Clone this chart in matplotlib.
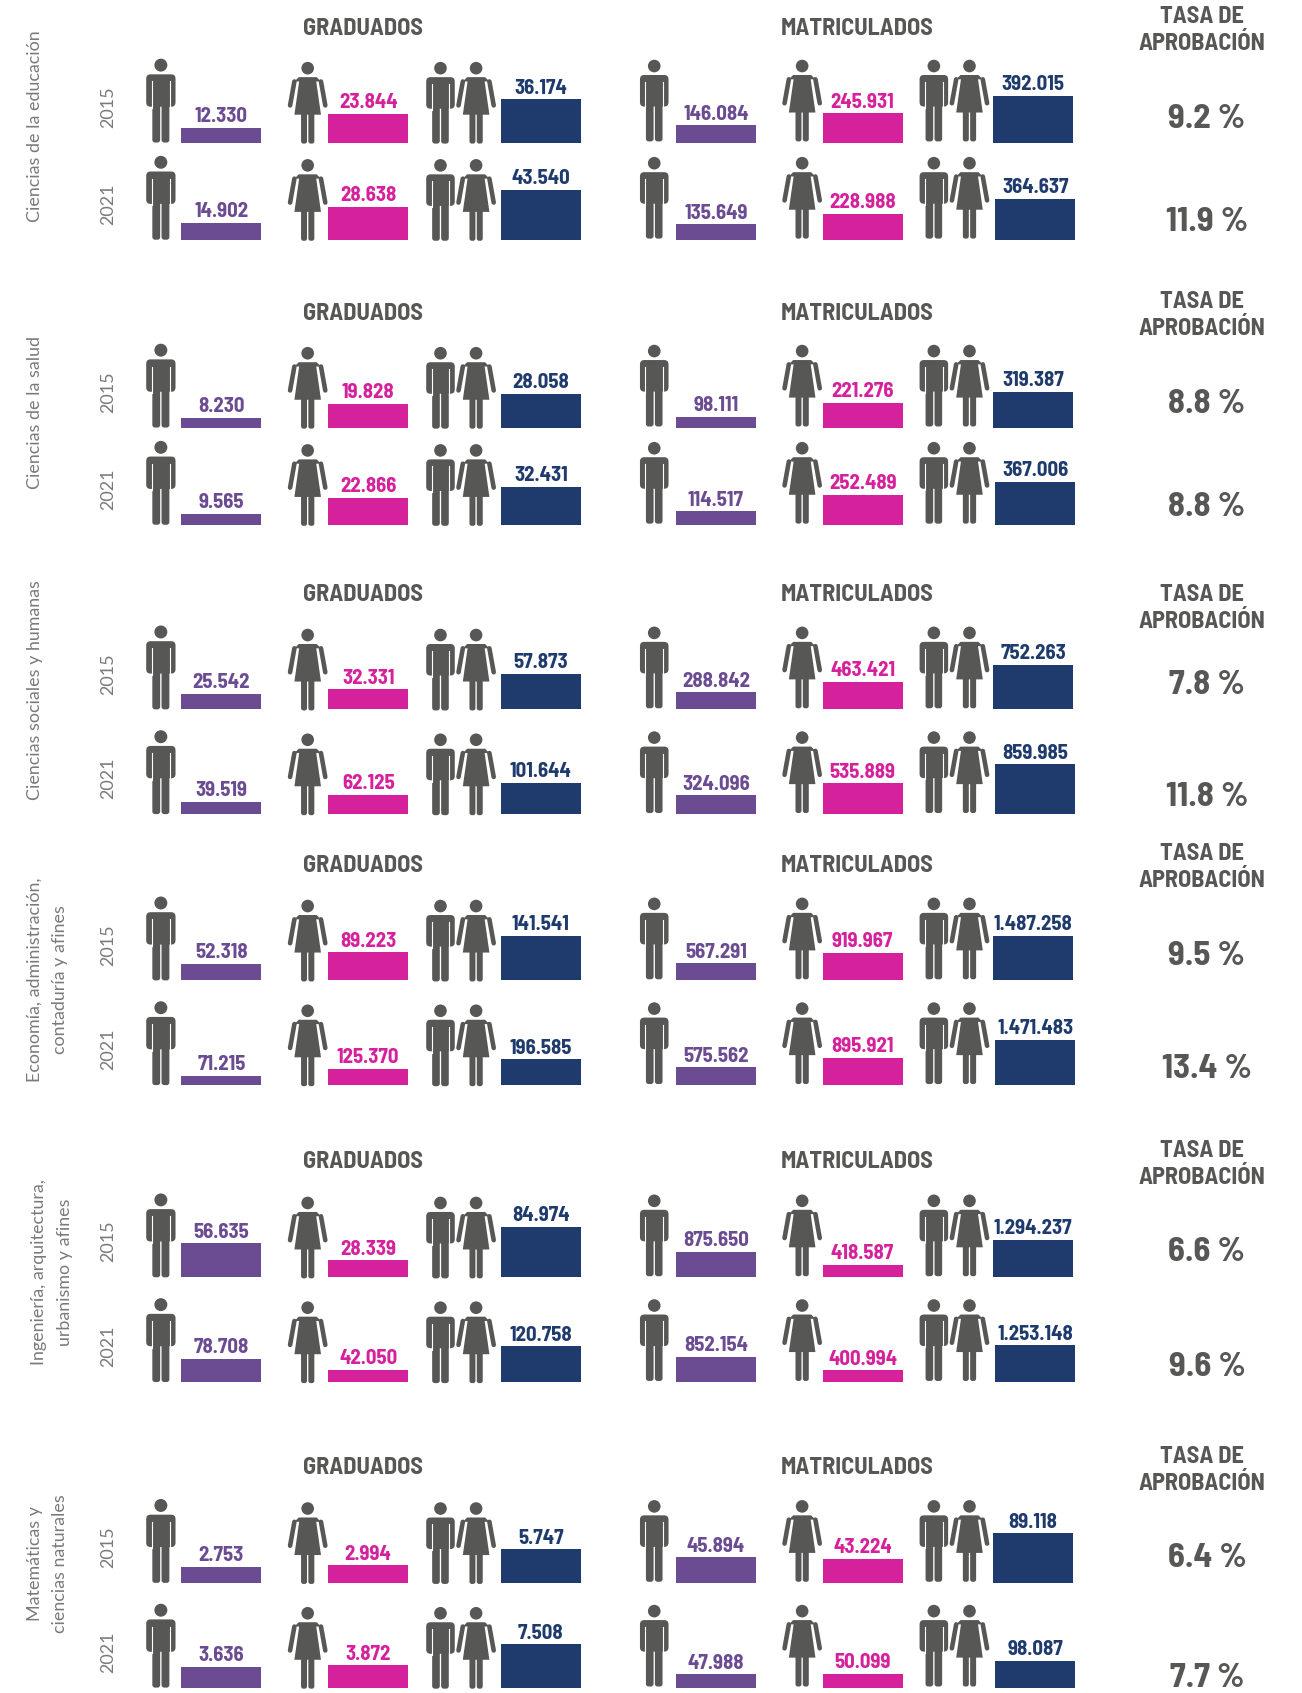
import matplotlib.pyplot as plt
from matplotlib.patches import Circle, FancyBboxPatch, Polygon

categories = [
    ['Ciencias de la educación'],
    ['Ciencias de la salud'],
    ['Ciencias sociales y humanas'],
    ['Economía, administración,', 'contaduría y afines'],
    ['Ingeniería, arquitectura,', 'urbanismo y afines'],
    ['Matemáticas y', 'ciencias naturales'],
]
years = ['2015', '2021']

# each row: [2015, 2021]
grad_men = [[12330, 14902], [8230, 9565], [25542, 39519], [52318, 71215], [56635, 78708], [2753, 3636]]
grad_women = [[23844, 28638], [19828, 22866], [32331, 62125], [89223, 125370], [28339, 42050], [2994, 3872]]
grad_total = [[36174, 43540], [28058, 32431], [57873, 101644], [141541, 196585], [84974, 120758], [5747, 7508]]
mat_men = [[146084, 135649], [98111, 114517], [288842, 324096], [567291, 575562], [875650, 852154], [45894, 47988]]
mat_women = [[245931, 228988], [221276, 252489], [463421, 535889], [919967, 895921], [418587, 400994], [43224, 50099]]
mat_total = [[392015, 364637], [319387, 367006], [752263, 859985], [1487258, 1471483], [1294237, 1253148], [89118, 98087]]
rates = [[9.2, 11.9], [8.8, 8.8], [7.8, 11.8], [9.5, 13.4], [6.6, 9.6], [6.4, 7.7]]

# layout, in px of the 1206x1568 view
baselines = [[132, 222], [396, 486], [657, 754], [908, 1005], [1183, 1280], [1466, 1563]]
grad_full = [[40, 46], [31, 35], [33, 29], [41, 24], [47, 33], [31, 40]]
mat_full = [[43, 38], [33, 40], [41, 46], [41, 42], [35, 34], [46, 25]]
title_y = [27, 291, 551, 802, 1076, 1360]
tasa_y = [16, 280, 551, 791, 1066, 1349]
rate_y = [[110, 206], [374, 470], [634, 738], [885, 990], [1160, 1266], [1443, 1554]]
cat_y = [117, 382, 639, 907, 1178, 1448]
cat_x = [[32], [32], [32], [32, 56], [36, 60], [32, 56]]

GRAY = '#575756'
LABEL_GRAY = '#7a7a79'
PURPLE = '#6b4c93'
MAGENTA = '#d6219c'
NAVY = '#1f3b6e'
NARROW = ['Barlow Semi Condensed', 'Roboto Condensed', 'Liberation Sans', 'DejaVu Sans']
THIN = ['Lato', 'DejaVu Sans']

fig = plt.figure(figsize=(13.02, 16.93), dpi=100)
ax = fig.add_axes([0, 0, 1, 1])
ax.set_xlim(0, 1206)
ax.set_ylim(1568, 0)
ax.axis('off')


def rounded(x0, x1, y0, y1, r):
    ax.add_patch(FancyBboxPatch((x0 + r, y0 + r), x1 - x0 - 2 * r, y1 - y0 - 2 * r,
                                boxstyle=f'round,pad={r},rounding_size={r}',
                                fc=GRAY, ec='none', lw=0, zorder=2))


def man(cx, base, h=76):
    top = base - h
    f = h / 247
    ax.add_patch(Circle((cx, top + 20 * f), 19 * f, fc=GRAY, ec='none', zorder=2))
    rounded(cx - 43 * f, cx + 43 * f, top + 47 * f, top + 142 * f, 4)
    for side in (-1, 1):
        ax.plot([cx + side * 27 * f] * 2, [top + 68 * f, top + 146 * f], color='white', lw=0.8, zorder=3)
        x0 = sorted([cx + side * 2 * f, cx + side * 25 * f])[0]
        rounded(x0, x0 + 23 * f, top + 130 * f, base, 2.5)


def woman(cx, base, h=76):
    top = base - h
    f = h / 247
    ax.add_patch(Circle((cx, top + 20 * f), 19 * f, fc=GRAY, ec='none', zorder=2))
    ax.add_patch(Polygon([(cx - 27 * f, top + 47 * f), (cx + 27 * f, top + 47 * f),
                          (cx + 40 * f, top + 60 * f), (cx - 40 * f, top + 60 * f)],
                         fc=GRAY, ec='none', zorder=2))
    ax.add_patch(Polygon([(cx - 25 * f, top + 55 * f), (cx + 25 * f, top + 55 * f),
                          (cx + 40 * f, top + 160 * f), (cx - 40 * f, top + 160 * f)],
                         fc=GRAY, ec='none', zorder=2))
    for side in (-1, 1):
        ax.plot([cx + side * 40 * f, cx + side * 53 * f], [top + 60 * f, top + 132 * f],
                color=GRAY, lw=3.3, solid_capstyle='round', zorder=2)
        x0 = sorted([cx + side * 2 * f, cx + side * 20 * f])[0]
        rounded(x0, x0 + 18 * f, top + 150 * f, base, 2.2)


def value_bar(x0, base, value, full, total, color):
    h = full * value / total
    ax.bar(x0, -h, width=74, bottom=base, align='edge', color=color, linewidth=0)
    ax.text(x0 + 37, base - h - 1.5, f'{value:,}'.replace(',', '.'), color=color, ha='center',
            va='bottom', fontsize=15, fontweight='bold', family=NARROW)


for i, lines in enumerate(categories):
    for line, x in zip(lines, cat_x[i]):
        ax.text(x, cat_y[i], line, rotation=90, color=LABEL_GRAY, ha='center', va='center',
                fontsize=12.9, family=THIN)

    ax.text(336, title_y[i], 'GRADUADOS', color=GRAY, ha='center', va='center',
            fontsize=17.5, fontweight='bold', family=NARROW)
    ax.text(794, title_y[i], 'MATRICULADOS', color=GRAY, ha='center', va='center',
            fontsize=17.5, fontweight='bold', family=NARROW)
    ax.text(1113, tasa_y[i], 'TASA DE', color=GRAY, ha='center', va='center',
            fontsize=17.5, fontweight='bold', family=NARROW)
    ax.text(1113, tasa_y[i] + 25, 'APROBACIÓN', color=GRAY, ha='center', va='center',
            fontsize=17.5, fontweight='bold', family=NARROW)

    for j, year in enumerate(years):
        base = baselines[i][j]
        ax.text(100, base - 33, year, rotation=90, color=LABEL_GRAY, ha='center', va='center',
                fontsize=13, family=THIN)
        ax.text(1118, rate_y[i][j], f'{rates[i][j]} %', color=GRAY, ha='center', va='center',
                fontsize=25, fontweight='bold', family=NARROW)

        man(149, base, 78)
        woman(285, base + 1)
        man(408, base + 1)
        woman(441, base + 1)
        man(606, base - 1)
        woman(743, base - 1)
        man(865, base - 1)
        woman(898, base - 1)

        value_bar(168, base, grad_men[i][j], grad_full[i][j], grad_total[i][j], PURPLE)
        value_bar(304, base, grad_women[i][j], grad_full[i][j], grad_total[i][j], MAGENTA)
        value_bar(464, base, grad_total[i][j], grad_full[i][j], grad_total[i][j], NAVY)
        value_bar(626, base, mat_men[i][j], mat_full[i][j], mat_total[i][j], PURPLE)
        value_bar(762, base, mat_women[i][j], mat_full[i][j], mat_total[i][j], MAGENTA)
        value_bar(920 + 2 * j, base, mat_total[i][j], mat_full[i][j], mat_total[i][j], NAVY)

plt.savefig('out.png', dpi=100)
